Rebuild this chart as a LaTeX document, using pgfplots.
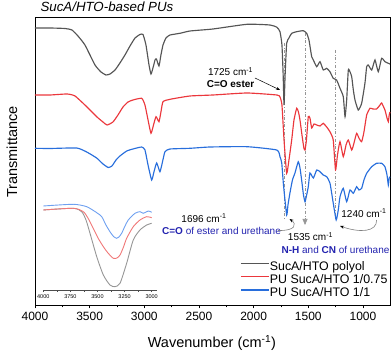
\documentclass[border=0pt]{standalone}
\usepackage{pgfplots}
\pgfplotsset{compat=1.18}
\usepackage{fontspec}
\setmainfont{Liberation Sans}
\usetikzlibrary{arrows.meta}
\definecolor{cgray}{RGB}{85,85,85}
\definecolor{cred}{RGB}{235,55,60}
\definecolor{cblue}{RGB}{40,110,220}
\definecolor{lgray}{RGB}{150,150,150}
\definecolor{lred}{RGB}{240,120,120}
\definecolor{lblue}{RGB}{110,160,240}
\definecolor{ann}{RGB}{35,35,175}
\definecolor{dashc}{RGB}{150,150,150}
\newcommand{\fs}{\fontsize{10}{11.6}\selectfont}
\begin{document}
\begin{tikzpicture}
\useasboundingbox (-35pt,-48pt) rectangle (357pt,305pt);
\begin{axis}[name=main, scale only axis, width=355.3pt, height=288pt,
  xmin=750, xmax=4000, x dir=reverse, ymin=0, ymax=288, clip=false,
  xtick={1000,1500,...,4000}, minor x tick num=1, ytick=\empty,
  xtick pos=left, tick align=outside,
  major tick length=3.5pt, minor tick length=2.5pt,
  axis line style={line width=0.9pt},
  every tick/.style={black, line width=0.8pt},
  tick label style={font=\fontsize{12}{12}\selectfont},
  /pgf/number format/assume math mode=true, /pgf/number format/1000 sep={},
  xlabel={Wavenumber (cm\textsuperscript{-1})},
  xlabel style={font=\fontsize{14.5}{14.5}\selectfont, at={(rel axis cs:0.498,-0.132)}, anchor=center},
  ylabel={Transmittance},
  ylabel style={font=\fontsize{14.5}{14.5}\selectfont, at={(rel axis cs:-0.0647,0.531)}, anchor=center},
  legend style={at={(rel axis cs:0.577,0.156)}, anchor=north west, draw=none, fill=none,
    inner sep=0pt, row sep=0pt, font=\fontsize{12.4}{13.3}\selectfont,
    nodes={inner sep=0.5pt, text height=9.3pt, text depth=3pt}},
  legend cell align=left,
  legend image code/.code={\draw[#1] (0pt,3.5pt) -- (28pt,3.5pt);},
  every axis plot/.append style={line width=1.15pt, smooth, tension=0.3}]

\draw[dashc, dash dot, line width=0.6pt] (axis cs:1720,262) -- (axis cs:1720,85);
\draw[dashc, dash dot, line width=0.6pt] (axis cs:1250,255) -- (axis cs:1250,85);
\draw[dashc, dash dot, line width=0.6pt, -{Triangle[length=6pt,width=5pt]}] (axis cs:1530,272) -- (axis cs:1530,80);

% SucA/HTO polyol
\addplot[cgray] coordinates {
(4000,277) (3863,277) (3726,276.5) (3662,275) (3607,269) (3543,260) (3451,240)
(3396,233) (3351,230) (3314,231) (3268,235) (3223,242) (3177,250) (3131,259)
(3085,267) (3040,270.5) (3012,270.5) (2985,260) (2957,240) (2939,231) (2921,237)
(2902,245) (2889,246) (2866,239) (2848,250) (2829,260) (2802,267) (2765,270)
(2674,271.7) (2582,274) (2372,276) (2061,280.7) (1851,280) (1787,277.7) (1759,273.3)
(1741,260) (1730,230) (1722,200) (1712,230) (1698,261.7) (1677,267) (1652,271.7)
(1606,273.3) (1546,274.3) (1515,271.7) (1494,265) (1469,248.3) (1454,245) (1423,238.3)
(1393,243.3) (1363,235) (1332,236.7) (1302,233.3) (1272,226.7) (1241,225) (1210,216.7)
(1180,208.3) (1164,188.3) (1149,205) (1134,235) (1118,233) (1103,228.3) (1088,215)
(1073,205) (1043,195) (1012,201.7) (982,221.7) (966,238.3) (951,240) (920,235)
(890,245) (860,233.3) (829,246.7) (799,243.3) (768,241.7) (753,241)
};
\addlegendentry{SucA/HTO polyol}

% PU SucA/HTO 1/0.75
\addplot[cred] coordinates {
(4000,210) (3863,210) (3707,211) (3634,209) (3524,198) (3433,188) (3378,183)
(3341,180) (3287,183) (3241,190) (3195,198) (3149,203) (3104,205) (3024,206.7)
(2994,200) (2966,185) (2939,171.7) (2916,180) (2893,188.3) (2866,183.3) (2848,193)
(2829,203.3) (2765,205.7) (2582,209) (2372,210) (2061,212) (1787,210) (1759,208)
(1741,200) (1722,165) (1698,131.7) (1677,145) (1652,165) (1631,185) (1606,196.7)
(1590,193) (1576,185) (1558,170) (1540,156.7) (1530,155) (1517,165) (1500,188.3)
(1485,187) (1469,177) (1448,181) (1423,180) (1393,179) (1363,181.7) (1332,178)
(1302,173.3) (1272,165) (1251,135) (1233,150) (1210,163.3) (1180,148.3) (1155,160)
(1134,165) (1103,155) (1082,162) (1058,171.7) (1037,167) (1012,163.3) (991,173)
(966,190) (936,196.7) (908,196) (875,196) (844,200) (829,202) (799,195)
(780,187) (768,183.3) (760,190) (753,193)
};
\addlegendentry{PU SucA/HTO 1/0.75}

% PU SucA/HTO 1/1
\addplot[cblue] coordinates {
(4000,156.7) (3863,156.5) (3619,157) (3527,153) (3436,147) (3378,141) (3330,137.5)
(3296,139) (3259,145) (3223,149) (3161,154) (3104,156) (3024,158) (2994,155)
(2966,140) (2933,125) (2912,133) (2887,142) (2857,133.3) (2834,143) (2811,153.3)
(2765,156) (2582,156.7) (2399,158) (2061,158.3) (1789,155) (1759,148.3) (1743,142)
(1727,120) (1698,90) (1686,100) (1668,112) (1645,125) (1622,132) (1592,143.3)
(1576,137) (1561,125) (1544,110) (1530,103.3) (1517,109) (1500,118.3) (1485,132)
(1454,127) (1423,135) (1393,133.3) (1363,130) (1332,128.3) (1302,122) (1272,102)
(1245,85) (1226,95) (1210,108.3) (1180,116.7) (1149,103.3) (1119,115) (1088,111.7)
(1058,118.3) (1037,115) (1012,116.7) (991,125) (966,131.7) (920,138.3) (875,141.7)
(829,141.7) (799,138.3) (780,130) (768,120) (760,127) (753,128.3)
};
\addlegendentry{PU SucA/HTO 1/1}

\node[font=\fs, align=center] at (axis cs:2211,227.5) {1725 cm\textsuperscript{-1}\\\textbf{C=O ester}};
\draw[line width=0.5pt, -{Stealth[length=4pt,width=3pt]}] (axis cs:1988,227) -- (axis cs:1759,215);
\node[font=\fs] at (axis cs:2454,87) {1696 cm\textsuperscript{-1}};
\node[font=\fs, text=ann] at (axis cs:2294,74) {\textbf{C=O} of ester and urethane};
\draw[gray, line width=0.6pt, -{Stealth[length=4pt,width=3pt,color=black]}] (axis cs:1777,74.5) .. controls (axis cs:1613,74) and (axis cs:1604,81) .. (axis cs:1672,86);
\node[font=\fs] at (axis cs:1480,68.3) {1535 cm\textsuperscript{-1}};
\node[font=\fs] at (axis cs:991,91.7) {1240 cm\textsuperscript{-1}};
\draw[gray, line width=0.6pt, -{Stealth[length=4pt,width=3pt,color=black]}] (axis cs:875,85) .. controls (axis cs:872,73) and (axis cs:1027,72) .. (axis cs:1210,79);
\node[font=\fs, text=ann] at (axis cs:1251,55) {\textbf{N-H} and \textbf{CN} of urethane};
\node[font=\fontsize{13.3}{13.3}\selectfont\itshape, anchor=west] at (rel axis cs:0.0056,1.0347) {SucA/HTO-based PUs};
\end{axis}

% inset: OH region
\begin{axis}[at={(7.76pt,14.3pt)}, anchor=south west, scale only axis,
  width=113.8pt, height=90pt, xmin=2955, xmax=4005, x dir=reverse, ymin=0, ymax=90,
  axis x line*=bottom, axis y line=none,
  xtick={3000,3250,...,4000}, minor x tick num=1, tick align=outside,
  major tick length=1.5pt, minor tick length=1pt,
  axis line style={line width=0.5pt, black!70},
  every tick/.style={black!70, line width=0.4pt},
  tick label style={font=\fontsize{5.5}{5.5}\selectfont},
  xticklabel style={yshift=1pt},
  /pgf/number format/assume math mode=true, /pgf/number format/1000 sep={},
  every axis plot/.append style={line width=0.9pt, smooth, tension=0.4}]
\addplot[lgray] coordinates {
(4000,80.7) (3723,82.4) (3646,79) (3606,70.7) (3569,57.4) (3507,34) (3446,15.7)
(3385,5.7) (3339,4) (3292,7.4) (3231,27.4) (3170,50.7) (3108,60.7) (3046,65.7) (3000,67.4)
};
\addplot[lred] coordinates {
(4000,80.7) (3723,82.4) (3631,79) (3588,72.7) (3539,62.4) (3495,52.7) (3446,44)
(3403,37.7) (3354,32.4) (3320,32.7) (3292,35.7) (3260,43.7) (3231,52.4) (3170,64)
(3108,70.7) (3046,74) (3000,73)
};
\addplot[lblue] coordinates {
(4000,84.7) (3723,86.4) (3600,84) (3507,78) (3461,74) (3422,65.7) (3385,59)
(3352,54.2) (3323,52.4) (3302,53.7) (3277,57.4) (3246,64.7) (3216,70.7) (3154,77.4)
(3108,79) (3077,77.4) (3031,79.7) (3000,78.4)
};
\end{axis}
\end{tikzpicture}
\end{document}
